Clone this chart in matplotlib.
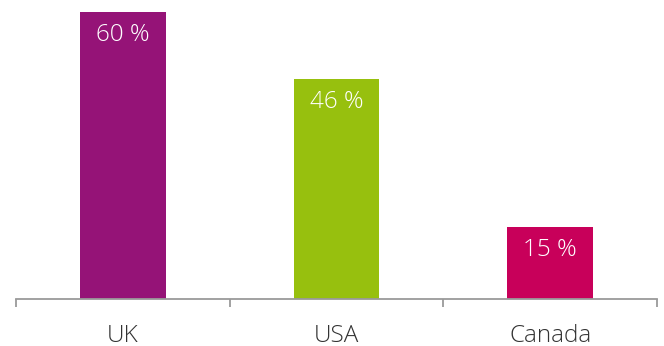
import matplotlib
matplotlib.use("Agg")
import matplotlib.pyplot as plt

categories = ["UK", "USA", "Canada"]
values = [60, 46, 15]
colors = ["#951377", "#97C00E", "#C8005A"]

plt.rcParams['font.family'] = ['Open Sans', 'DejaVu Sans']

W, H = 664, 346
fig = plt.figure(figsize=(W / 100, H / 100), dpi=100)
ax = fig.add_axes([16 / W, (H - 298.5) / H, (657 - 16) / W, (298.5 - 12) / H])

x = range(len(categories))
bars = ax.bar(x, values, width=0.40, color=colors, zorder=2)
for b, v in zip(bars, values):
    ax.text(b.get_x() + b.get_width() / 2, v - 2.4, f"{v} %", ha="center", va="top",
            color="white", fontsize=17.5, fontweight="light")

ax.set_xlim(-0.5, len(categories) - 0.5)
ax.set_ylim(0, 60)
for s in ["top", "right", "left"]:
    ax.spines[s].set_visible(False)
ax.spines["bottom"].set_color("#9a9a9a")
ax.spines["bottom"].set_linewidth(1.3)
ax.set_yticks([])
ax.set_xticks(list(x))
ax.set_xticklabels(categories, fontsize=17.5, color="#333333", fontweight="light")
ax.tick_params(axis="x", which="major", length=0, pad=18)
ax.set_xticks([i - 0.5 for i in range(len(categories) + 1)], minor=True)
ax.tick_params(axis="x", which="minor", length=6, width=1.3, color="#9a9a9a", direction="out")

fig.savefig("out.png", dpi=100)
